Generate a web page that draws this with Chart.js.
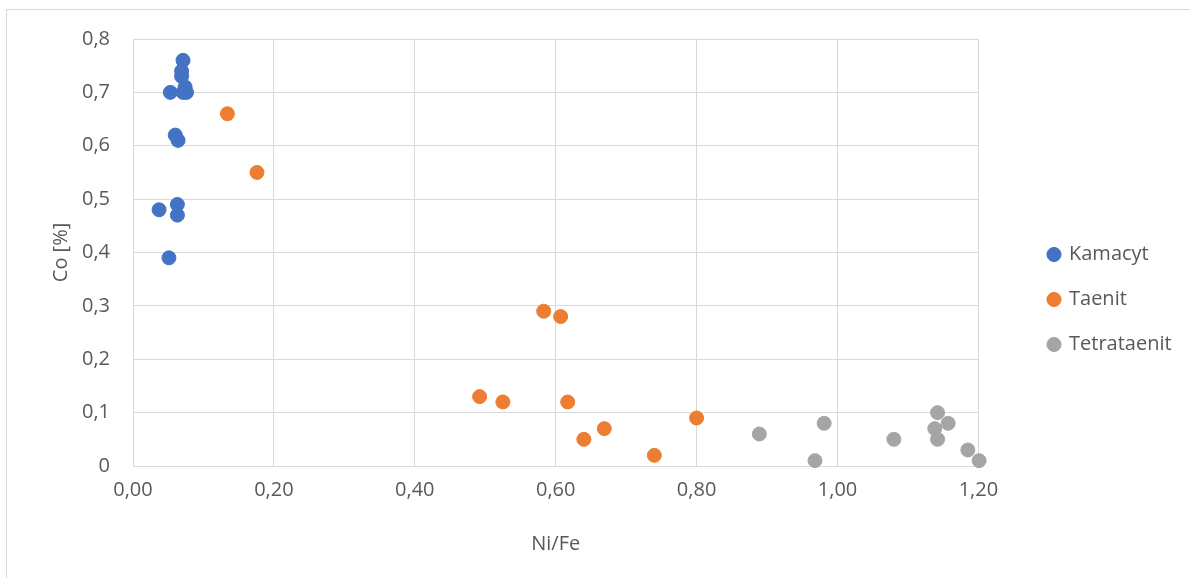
<!DOCTYPE html>
<html>
<head>
<meta charset="utf-8">
<script src="https://cdn.jsdelivr.net/npm/chart.js@4.4.1/dist/chart.umd.min.js"></script>
<style>
  html, body { margin: 0; padding: 0; background: #ffffff; }
  #wrap { position: relative; width: 1190px; height: 578px; }
</style>
</head>
<body>
<div id="wrap"><canvas id="chart" width="1190" height="578"></canvas></div>
<script>
// Ni/Fe ratio (x) and Co content in % (y) for each phase
const kamacytNiFe = [0.071, 0.069, 0.069, 0.074, 0.053, 0.071, 0.076, 0.060, 0.064, 0.037, 0.063, 0.063, 0.051];
const kamacytCo   = [0.76,  0.74,  0.73,  0.71,  0.70,  0.70,  0.70,  0.62,  0.61,  0.48,  0.49,  0.47,  0.39];

const taenitNiFe = [0.134, 0.176, 0.583, 0.607, 0.492, 0.525, 0.617, 0.640, 0.669, 0.740, 0.800];
const taenitCo   = [0.66,  0.55,  0.29,  0.28,  0.13,  0.12,  0.12,  0.05,  0.07,  0.02,  0.09];

const tetrataenitNiFe = [0.889, 0.981, 0.968, 1.080, 1.142, 1.157, 1.138, 1.142, 1.185, 1.201];
const tetrataenitCo   = [0.06,  0.08,  0.01,  0.05,  0.10,  0.08,  0.07,  0.05,  0.03,  0.01];

const seriesNames = ['Kamacyt', 'Taenit', 'Tetrataenit'];
const seriesColors = ['#4472C4', '#ED7D31', '#A5A5A5'];

const xTitle = 'Ni/Fe';
const yTitle = 'Co [%]';

function toPoints(xs, ys) {
  return xs.map((x, i) => ({ x: x, y: ys[i] }));
}

const TEXT = '#595959';
const GRID = '#d9d9d9';
const FONT = "'Open Sans', 'Noto Sans', sans-serif";

// thin frame around the whole chart
const framePlugin = {
  id: 'frame',
  beforeDraw(chart) {
    const ctx = chart.ctx;
    ctx.save();
    ctx.strokeStyle = GRID;
    ctx.lineWidth = 1;
    ctx.strokeRect(6.5, 9.5, 1300, 700);
    ctx.restore();
  }
};

// keep the legend column clear of the plot
const legendShift = {
  id: 'legendShift',
  afterLayout(chart) {
    const lg = chart.legend;
    const target = 1024;
    const d = target - lg.left;
    lg.left += d;
    lg.right += d;
  }
};

const datasets = [
  toPoints(kamacytNiFe, kamacytCo),
  toPoints(taenitNiFe, taenitCo),
  toPoints(tetrataenitNiFe, tetrataenitCo)
].map((pts, i) => ({
  label: seriesNames[i],
  data: pts,
  backgroundColor: seriesColors[i],
  borderColor: seriesColors[i],
  pointRadius: 7,
  pointHoverRadius: 7,
  pointBorderWidth: 1,
  pointStyle: 'circle',
  clip: false
}));

new Chart(document.getElementById('chart'), {
  type: 'scatter',
  data: { datasets: datasets },
  plugins: [framePlugin, legendShift],
  options: {
    responsive: false,
    animation: false,
    events: [],
    layout: { padding: { left: 45, top: 39, right: 54, bottom: 18 } },
    plugins: {
      tooltip: { enabled: false },
      legend: {
        position: 'right',
        labels: {
          usePointStyle: true,
          pointStyle: 'circle',
          boxWidth: 10,
          boxHeight: 10,
          padding: 25,
          color: TEXT,
          font: { family: FONT, size: 20 }
        }
      }
    },
    scales: {
      x: {
        type: 'linear',
        min: 0,
        max: 1.2,
        afterFit(scale) { scale.height = 94; },
        ticks: {
          stepSize: 0.2,
          padding: 12,
          color: TEXT,
          font: { family: FONT, size: 20 },
          callback: v => v.toFixed(2).replace('.', ',')
        },
        grid: { color: GRID, lineWidth: 1, drawTicks: false },
        border: { color: GRID, width: 1 },
        title: { display: true, text: xTitle, color: TEXT, font: { family: FONT, size: 20 } }
      },
      y: {
        type: 'linear',
        min: 0,
        max: 0.8,
        afterFit(scale) { scale.width = 88; },
        ticks: {
          stepSize: 0.1,
          padding: 23,
          color: TEXT,
          font: { family: FONT, size: 20 },
          callback: v => (Math.abs(v) < 1e-9 ? '0' : v.toFixed(1).replace('.', ','))
        },
        grid: { color: GRID, lineWidth: 1, drawTicks: false },
        border: { color: GRID, width: 1 },
        title: { display: true, text: yTitle, color: TEXT, font: { family: FONT, size: 20 } }
      }
    }
  }
});
</script>
</body>
</html>
